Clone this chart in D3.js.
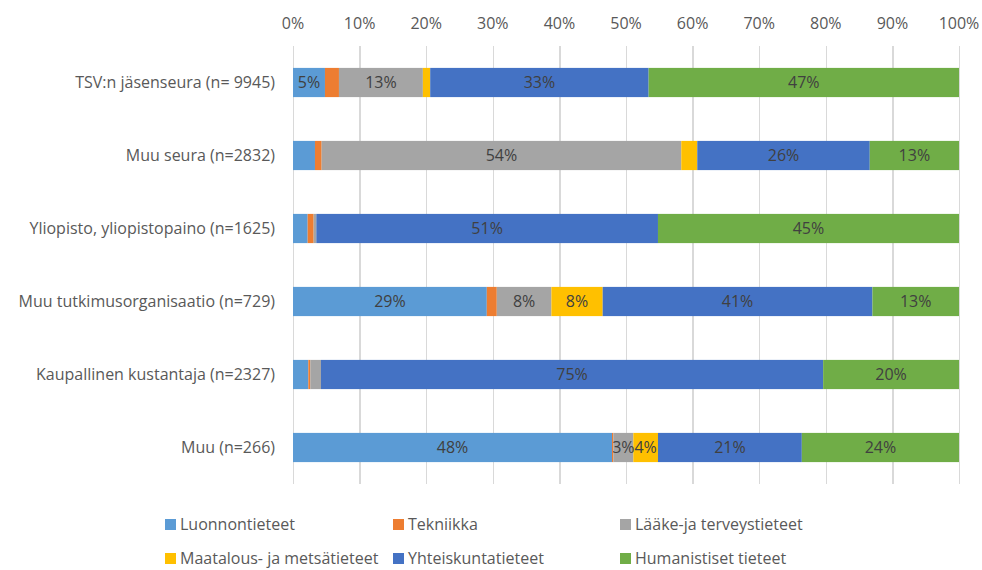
<html>
  <head>
    <meta charset="utf-8">
    <style>
      body { margin: 0; background: #ffffff; }
      .grid line { stroke: #d9d9d9; stroke-width: 1.3; shape-rendering: crispEdges; }
      .grid path { stroke-width: 0; }
      text { font-family: "Open Sans", sans-serif; font-size: 16px; }
    </style>
  </head>
  <body>
    <div id="chart"></div>
    <script src="https://d3js.org/d3.v7.min.js"></script>
    <script type="text/javascript">
      // categories (top to bottom)
      var categories = [
        "TSV:n jäsenseura (n= 9945)",
        "Muu seura (n=2832)",
        "Yliopisto, yliopistopaino (n=1625)",
        "Muu tutkimusorganisaatio (n=729)",
        "Kaupallinen kustantaja (n=2327)",
        "Muu (n=266)"
      ];
      var seriesNames = [
        "Luonnontieteet",
        "Tekniikka",
        "Lääke-ja terveystieteet",
        "Maatalous- ja metsätieteet",
        "Yhteiskuntatieteet",
        "Humanistiset tieteet"
      ];
      // shares in % per category, one array per series
      var luonnontieteet  = [4.8, 3.3, 2.2, 29.1, 2.3, 47.9];
      var tekniikka       = [2.1, 1.0, 0.9, 1.5, 0.3, 0.2];
      var laake           = [12.6, 54.0, 0.4, 8.2, 1.6, 3.0];
      var maatalous       = [1.1, 2.4, 0.0, 7.7, 0.0, 3.7];
      var yhteiskunta     = [32.8, 25.9, 51.3, 40.5, 75.4, 21.6];
      var humanistiset    = [46.6, 13.4, 45.2, 13.0, 20.4, 23.6];
      // data labels as shown (null = no label)
      var labelLuonnon    = ["5%", null, null, "29%", null, "48%"];
      var labelTekniikka  = [null, null, null, null, null, null];
      var labelLaake      = ["13%", "54%", null, "8%", null, "3%"];
      var labelMaatalous  = [null, null, null, "8%", null, "4%"];
      var labelYhteis     = ["33%", "26%", "51%", "41%", "75%", "21%"];
      var labelHuman      = ["47%", "13%", "45%", "13%", "20%", "24%"];
      var xTicks = [0, 10, 20, 30, 40, 50, 60, 70, 80, 90, 100];

      var colors = ["#5b9bd5", "#ed7d31", "#a5a5a5", "#ffc000", "#4472c4", "#70ad47"];
      var seriesValues = [luonnontieteet, tekniikka, laake, maatalous, yhteiskunta, humanistiset];
      var seriesLabels = [labelLuonnon, labelTekniikka, labelLaake, labelMaatalous, labelYhteis, labelHuman];

      var rows = categories.map(function(c, i) {
        var r = { cat: c };
        seriesNames.forEach(function(s, j) { r[s] = seriesValues[j][i]; });
        return r;
      });

      var width = 982, height = 570;
      var svg = d3.select("#chart").append("svg")
        .attr("width", width)
        .attr("height", height);

      var x = d3.scaleLinear().domain([0, 100]).range([293, 959]);
      var y = d3.scaleBand().domain(categories).range([46, 484])
        .paddingInner(0.6).paddingOuter(0.3);
      var color = d3.scaleOrdinal().domain(seriesNames).range(colors);

      // vertical gridlines
      svg.append("g")
        .attr("class", "grid")
        .attr("transform", "translate(0,484)")
        .call(d3.axisBottom(x).tickValues(xTicks).tickSize(-438).tickFormat(""));

      // top tick labels
      svg.append("g").selectAll("text")
        .data(xTicks)
        .enter().append("text")
        .attr("x", function(d) { return x(d); })
        .attr("y", 23)
        .attr("dy", "0.35em")
        .attr("text-anchor", "middle")
        .attr("fill", "#595959")
        .text(function(d) { return d + "%"; });

      // category labels
      svg.append("g").selectAll("text")
        .data(categories)
        .enter().append("text")
        .attr("x", 275)
        .attr("y", function(d) { return y(d) + y.bandwidth() / 2; })
        .attr("dy", "0.35em")
        .attr("text-anchor", "end")
        .attr("fill", "#595959")
        .text(function(d) { return d; });

      var stack = d3.stack().keys(seriesNames);
      var stacked = stack(rows);

      var layers = svg.append("g").selectAll("g")
        .data(stacked)
        .enter().append("g")
        .attr("fill", function(d) { return color(d.key); });

      layers.selectAll("rect")
        .data(function(d) { return d; })
        .enter().append("rect")
        .attr("x", function(d) { return x(d[0]); })
        .attr("y", function(d) { return y(d.data.cat); })
        .attr("width", function(d) { return Math.max(0, x(d[1]) - x(d[0])); })
        .attr("height", y.bandwidth());

      // data labels
      stacked.forEach(function(layer, j) {
        svg.append("g").selectAll("text")
          .data(layer.filter(function(d, i) { return seriesLabels[j][i] !== null; }))
          .enter().append("text")
          .attr("x", function(d) { return (x(d[0]) + x(d[1])) / 2; })
          .attr("y", function(d) { return y(d.data.cat) + y.bandwidth() / 2; })
          .attr("dy", "0.35em")
          .attr("text-anchor", "middle")
          .attr("fill", "#404040")
          .text(function(d) { return seriesLabels[j][categories.indexOf(d.data.cat)]; });
      });

      // legend
      var legendPos = [[165, 524], [393, 524], [620, 524], [165, 558], [393, 558], [620, 558]];
      var legend = svg.append("g").selectAll("g")
        .data(seriesNames)
        .enter().append("g")
        .attr("transform", function(d, i) { return "translate(" + legendPos[i][0] + "," + legendPos[i][1] + ")"; });
      legend.append("rect")
        .attr("x", 0).attr("y", -5)
        .attr("width", 11).attr("height", 11)
        .attr("fill", function(d) { return color(d); });
      legend.append("text")
        .attr("x", 15)
        .attr("dy", "0.35em")
        .attr("fill", "#595959")
        .text(function(d) { return d; });
    </script>
  </body>
</html>
